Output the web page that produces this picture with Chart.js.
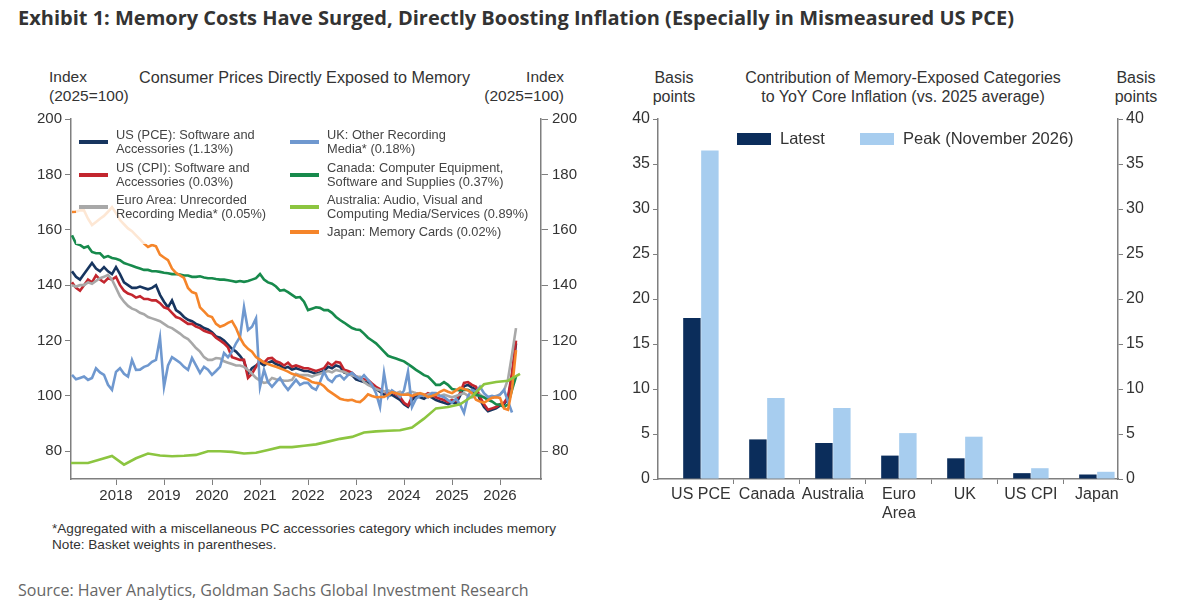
<!DOCTYPE html>
<html>
<head>
<meta charset="utf-8">
<script src="https://cdn.jsdelivr.net/npm/chart.js@4.4.1/dist/chart.umd.min.js"></script>
<style>
  body { margin: 0; background: #fff; width: 1200px; height: 608px; overflow: hidden; position: relative;
         font-family: "Liberation Sans", Arial, sans-serif; color: #333; }
  .abs { position: absolute; white-space: nowrap; }
  #title { left: 18px; top: 4px; font-family: "Open Sans", sans-serif; font-weight: 700; font-size: 20px; color: #333; }
  .hdr { font-size: 15.5px; line-height: 18.5px; color: #333; }
  .hdr2 { font-size: 16px; line-height: 19px; color: #333; }
  #source { left: 18px; top: 579px; font-family: "Open Sans", sans-serif; font-size: 16px; color: #666; }
  .note { left: 52px; font-size: 13.6px; color: #333; }
  #leftCanvasBox { left: 0; top: 0; width: 600px; height: 510px; }
  #rightCanvasBox { left: 600px; top: 0; width: 600px; height: 530px; }
  #lineLegend { left: 76px; top: 122px; width: 464px; height: 122px; background: rgba(255,255,255,0.8); }
  .lg { position: absolute; font-size: 12.8px; line-height: 14px; color: #444; }
  .lg .sw { position: absolute; height: 3.5px; width: 29px; }
  #barLegend { top: 129px; font-size: 16.5px; color: #333; }
  .bsw { position: absolute; width: 34px; height: 12px; top: 4px; }
</style>
</head>
<body>
<div id="title" class="abs">Exhibit 1: Memory Costs Have Surged, Directly Boosting Inflation (Especially in Mismeasured US PCE)</div>

<div class="abs hdr" style="left:49px;top:68px;">Index<br>(2025=100)</div>
<div class="abs hdr" style="left:139px;top:68px;font-size:16.2px;">Consumer Prices Directly Exposed to Memory</div>
<div class="abs hdr" style="left:471px;top:68px;width:93px;text-align:right;">Index<br>(2025=100)</div>

<div class="abs hdr2" style="left:639px;top:68px;width:70px;text-align:center;">Basis<br>points</div>
<div class="abs hdr2" style="left:700px;top:68px;width:406px;text-align:center;">Contribution of Memory-Exposed Categories<br>to YoY Core Inflation (vs. 2025 average)</div>
<div class="abs hdr2" style="left:1101px;top:68px;width:70px;text-align:center;">Basis<br>points</div>

<div id="leftCanvasBox" class="abs"><canvas id="lineChart"></canvas></div>
<div id="rightCanvasBox" class="abs"><canvas id="barChart"></canvas></div>
<div id="lineLegend" class="abs"></div>
<div id="barLegend" class="abs"></div>

<div class="abs note" style="top:521px;">*Aggregated with a miscellaneous PC accessories category which includes memory</div>
<div class="abs note" style="top:537px;">Note: Basket weights in parentheses.</div>
<div id="source" class="abs">Source: Haver Analytics, Goldman Sachs Global Investment Research</div>

<script>
// --- Left panel: monthly indices (2025=100), Feb 2017 .. May 2026 ---
const yearTicks = [2018, 2019, 2020, 2021, 2022, 2023, 2024, 2025, 2026];
const indexTicks = [80, 100, 120, 140, 160, 180, 200];

const usPce = [
  145, 143, 142, 144, 146, 148, 146, 145, 146.5, 145, 144,
  146.5, 144, 141, 140, 139, 139, 139.5, 139, 138.5, 139, 140, 136.5,
  134, 132, 134.5, 131, 130, 128.5, 127.5, 127, 126, 125.5, 124.5, 124,
  123, 121.5, 121, 120, 118.5, 117, 116, 114.5, 112.5, 108, 110, 111,
  112, 111, 112, 112.5, 111.5, 111, 110, 110.5, 109.5, 110, 109.5, 109,
  109, 108.5, 108, 108.5, 109, 110.5, 110, 111, 110.5, 108.5, 108, 107.5,
  106, 105.5, 105, 104.8, 103.5, 102.5, 101.5, 100.5, 100, 100.4, 99.5, 98.6,
  97, 96, 98.5, 100, 99.5, 99, 100, 99.4, 98.5, 98, 97.5, 97,
  97.6, 97.2, 100, 103.5, 104, 103, 102.3, 98.6, 96, 94.5, 95, 95.5,
  96.5, 97, 99, 107, 119
];
const usCpi = [
  141, 139, 138, 140, 142, 141, 143.5, 142, 141, 142.5, 142,
  143, 140, 138, 137, 136.5, 135.5, 136, 135, 135, 134.5, 134.5, 133.5,
  132, 131.5, 130, 128.5, 128, 127, 126, 126, 125, 124.5, 123.5, 123,
  122.5, 121, 120, 119, 117.5, 114, 113.5, 113, 113, 106.5, 108, 110.5,
  113, 112, 113.5, 113.7, 112.5, 112, 111, 112, 110.5, 111, 110.5, 110,
  110, 109.5, 109, 109.5, 110, 112, 111, 112.3, 112, 109.5, 109, 108.3,
  107, 106.5, 106, 105.8, 104.5, 103.3, 102.5, 101.5, 101, 101.4, 100.5, 99.6,
  97.5, 96.5, 99.6, 101, 100.5, 100, 101, 100.4, 99.5, 99, 98.5, 97.8,
  98.6, 98.2, 101, 104.7, 105, 104, 103.3, 99.6, 97, 95, 95.5, 96,
  97, 97.5, 99.6, 108.3, 120
];
const euroArea = [
  140, 139.5, 140, 140, 141, 140.5, 141.5, 142.5, 143, 143.7, 142,
  139, 136, 134, 132.5, 131.5, 131, 130, 129.5, 128.5, 128, 127.5, 127,
  126, 125, 124.5, 123.5, 122.5, 121.3, 120.5, 119, 117.3, 116, 114, 113,
  113, 113.7, 113.5, 112.5, 112, 111.5, 111, 111, 110.5, 109.4, 108, 106.5,
  105.5, 104.7, 105, 106.5, 106, 105.8, 105.5, 105.5, 105.8, 108, 107.5, 107.5,
  107.5, 107, 107.6, 108, 108.5, 109, 108.5, 109.4, 109, 108.7, 108, 107.5,
  107, 106.9, 105, 104, 103.3, 102.5, 102, 101.5, 102, 101.5, 101, 101.5,
  100.5, 101, 101.5, 101, 100.5, 100, 100.5, 101, 100.5, 100, 100.5, 100,
  99.5, 100, 100.5, 101, 100, 99.5, 100, 100.5, 99.5, 99, 99.5, 100,
  100.5, 102, 106, 115, 124.5
];
const ukMedia = [
  107.6, 106, 106.5, 107, 105.8, 106.5, 110, 108.5, 107.6, 104, 102.2,
  108.7, 110, 108, 107, 113, 109.4, 109.5, 110.5, 111, 112.3, 113, 121,
  103.3, 111, 114, 113, 112, 110.5, 109.4, 113.7, 111, 108.3, 110.5, 109.5,
  107.6, 109, 110.5, 115.5, 114, 116, 119, 121.3, 132, 123.8, 125, 128,
  103.3, 109.4, 105, 103.3, 105, 106.5, 104, 102.2, 104, 105.8, 104, 104.7,
  104.7, 103, 102.2, 105, 108.7, 106, 105, 107, 107.5, 106, 107.5, 108.3,
  107, 106, 107.5, 105.8, 104, 101, 96, 108.3, 99.6, 102, 101, 99.6,
  102, 108.7, 96, 99, 100, 100.4, 99.5, 101, 101, 100, 99.6, 98.5,
  97.5, 99, 97, 93.9, 100, 102.2, 101.5, 103.3, 101, 99.6, 100, 99.6,
  100.5, 102.2, 98, 94, null
];
const canada = [
  158, 155, 154.5, 153.5, 154, 152, 151.5, 151.5, 150, 150.5, 149.8,
  149.5, 149, 148, 147.5, 147, 146.5, 146, 145.5, 145.5, 145, 145, 144.8,
  144.5, 144.3, 144, 144, 143.8, 143.5, 143.5, 143, 143, 143.2, 142.8, 142.5,
  142.5, 142.2, 142, 142, 141.8, 141.5, 141.2, 141.5, 141.2, 141.5, 142, 142.5,
  144, 142, 141, 140.5, 139.5, 138, 138.3, 137.5, 136.5, 135.5, 135.7, 134,
  131, 131.5, 132, 131.8, 131, 131, 130, 128.5, 127.4, 126.5, 125.5, 124.5,
  124, 123.8, 122.5, 121, 120, 119, 117.5, 116, 114.5, 114, 113.5, 113,
  112.5, 111.5, 110.5, 109.4, 108.5, 107.5, 107, 105.5, 104, 104, 105, 104,
  102.5, 102.2, 102, 102.2, 102.2, 101.5, 100.5, 100, 99.5, 98.6, 98, 97,
  96.8, 96, 97, 102.2, 107
];
const japan = [
  166.4, 166.5, 167, 167, 164, 161.7, 162.8, 164, 165, 166.5, 168.2,
  166, 163.5, 162, 160.5, 159.5, 158, 156.5, 155, 153.8, 154.5, 154, 151,
  150, 149, 146, 144.4, 143.5, 142.6, 139, 137.5, 137, 132, 130.5, 129,
  128.5, 126, 125, 125.5, 126.4, 127, 124.5, 121, 118.5, 117, 116, 114,
  113, 112, 111.5, 111, 110.5, 110, 109.4, 108.8, 108, 107.6, 107, 106.5,
  106, 105, 104.7, 104.5, 103.5, 102, 101, 100, 99, 98.6, 98.4, 98.6,
  98, 97.8, 99, 100.6, 100, 99.5, 99.6, 99.6, 100.5, 101.4, 101, 100.5,
  100.4, 100.5, 100, 100.5, 101, 100.5, 99.6, 100, 100.5, 101.5, 102.2, 101.5,
  101, 102, 103, 102.5, 102, 101, 98.6, 98, 97.5, 98.5, 99.3, 99.5,
  99.3, 95.5, 95, 102.5, 116.5
];
// Australia is quarterly: Dec 2016 .. Jun 2026
const australia = [
  75.8, 75.8, 75.8, 77, 78.3, 75.2, 77.5, 79.2, 78.5, 78.2, 78.4, 78.7,
  80, 80, 79.8, 79.2, 79.5, 80.5, 81.5, 81.5, 82, 82.5, 83.5, 84.5,
  85.2, 86.8, 87.2, 87.4, 87.6, 88.6, 91.8, 95.5, 96, 97, 99.8, 104.2,
  105, 105.5, 108
];

const lineNames = [
  ['US (PCE): Software and', 'Accessories (1.13%)'],
  ['US (CPI): Software and', 'Accessories (0.03%)'],
  ['Euro Area: Unrecorded', 'Recording Media* (0.05%)'],
  ['UK: Other Recording', 'Media* (0.18%)'],
  ['Canada: Computer Equipment,', 'Software and Supplies (0.37%)'],
  ['Australia: Audio, Visual and', 'Computing Media/Services (0.89%)'],
  ['Japan: Memory Cards (0.02%)']
];
const lineColors = ['#17355f', '#c3262e', '#a8a8a8', '#6f98cf', '#178a4c', '#8cc540', '#f5852a'];

// --- Right panel: basis points ---
const barCategories = ['US PCE', 'Canada', 'Australia', ['Euro', 'Area'], 'UK', 'US CPI', 'Japan'];
const latestBp = [17.9, 4.4, 4.0, 2.6, 2.3, 0.65, 0.5];
const peakBp = [36.5, 9.0, 7.9, 5.1, 4.7, 1.2, 0.8];
const barNames = ['Latest', 'Peak (November 2026)'];
const barColors = ['#0b2d5b', '#a7cdef'];

function monthly(values) {
  return values.map((v, i) => ({ x: 2017 + (1 + i) / 12, y: v }));
}
function quarterly(values) {
  return values.map((v, i) => ({ x: 2016 + 11 / 12 + i / 4, y: v }));
}
function byCategory(values) {
  return values.map((v, i) => ({ x: i, y: v }));
}

const axisGrey = '#7f7f7f';
const tickFont = { family: '"Liberation Sans", Arial, sans-serif', size: 15 };

const lineSeries = [usPce, usCpi, euroArea, ukMedia, canada, australia, japan];
const drawOrder = [7, 6, 5, 3, 4, 1, 2]; // lower = drawn on top

new Chart(document.getElementById('lineChart'), {
  type: 'line',
  data: {
    datasets: lineSeries.map((vals, k) => ({
      label: lineNames[k].join(' '),
      data: vals === australia ? quarterly(vals) : monthly(vals),
      borderColor: lineColors[k],
      borderWidth: 2.6,
      pointRadius: 0,
      tension: 0,
      order: drawOrder[k]
    }))
  },
  options: {
    responsive: true,
    maintainAspectRatio: false,
    animation: false,
    events: [],
    layout: { padding: { top: 119, left: 0, right: 0, bottom: 0 } },
    plugins: { legend: { display: false }, tooltip: { enabled: false } },
    scales: {
      x: {
        type: 'linear',
        min: 2017.0625,
        max: 2026.854,
        afterBuildTicks: s => { s.ticks = yearTicks.map(v => ({ value: v })); },
        afterFit: s => { s.height = 31; },
        ticks: { color: '#333', font: tickFont, padding: 2, callback: v => String(v), maxRotation: 0 },
        grid: { drawOnChartArea: false, tickLength: 6, color: axisGrey },
        border: { color: axisGrey, width: 1.5 }
      },
      y: {
        position: 'left',
        min: 70,
        max: 200,
        afterBuildTicks: s => { s.ticks = indexTicks.map(v => ({ value: v })); },
        afterFit: s => { s.width = 71; },
        ticks: { color: '#333', font: tickFont, padding: 3 },
        grid: { drawOnChartArea: false, tickLength: 6, color: axisGrey },
        border: { color: axisGrey, width: 1.5 }
      },
      y2: {
        position: 'right',
        min: 70,
        max: 200,
        afterBuildTicks: s => { s.ticks = indexTicks.map(v => ({ value: v })); },
        afterFit: s => { s.width = 59; },
        ticks: { color: '#333', font: tickFont, padding: 4 },
        grid: { drawOnChartArea: false, tickLength: 7, color: axisGrey },
        border: { color: axisGrey, width: 1.5 }
      }
    }
  }
});

const barFont = { family: '"Liberation Sans", Arial, sans-serif', size: 16 };
new Chart(document.getElementById('barChart'), {
  type: 'bar',
  data: {
    datasets: [
      { label: barNames[0], data: byCategory(latestBp), backgroundColor: barColors[0] },
      { label: barNames[1], data: byCategory(peakBp), backgroundColor: barColors[1] }
    ]
  },
  options: {
    responsive: true,
    maintainAspectRatio: false,
    animation: false,
    events: [],
    layout: { padding: { top: 119, left: 0, right: 0, bottom: 0 } },
    plugins: { legend: { display: false }, tooltip: { enabled: false } },
    datasets: { bar: { categoryPercentage: 0.545, barPercentage: 0.97 } },
    scales: {
      x: {
        type: 'linear',
        offset: false,
        min: -0.65,
        max: 6.32,
        afterBuildTicks: s => { s.ticks = barCategories.map((c, i) => ({ value: i })); },
        afterFit: s => { s.height = 51; },
        ticks: { color: '#333', font: barFont, padding: 1, maxRotation: 0, autoSkip: false,
                 callback: (v, i) => barCategories[i] },
        grid: { drawOnChartArea: false, tickLength: 5, offset: true,
                color: ctx => (ctx.index === 0 || ctx.index >= barCategories.length) ? 'rgba(0,0,0,0)' : axisGrey },
        border: { color: axisGrey, width: 1.5 }
      },
      y: {
        position: 'left',
        min: 0, max: 40,
        ticks: { stepSize: 5, color: '#333', font: barFont, padding: 3 },
        afterFit: s => { s.width = 58; },
        grid: { drawOnChartArea: false, tickLength: 5, color: axisGrey },
        border: { color: axisGrey, width: 1.5 }
      },
      y2: {
        position: 'right',
        min: 0, max: 40,
        ticks: { stepSize: 5, color: '#333', font: barFont, padding: 3 },
        afterFit: s => { s.width = 82; },
        grid: { drawOnChartArea: false, tickLength: 5, color: axisGrey },
        border: { color: axisGrey, width: 1.5 }
      }
    }
  }
});

// --- Legends (HTML overlays built from the dataset names/colours) ---
const lineLegend = document.getElementById('lineLegend');
const legendSlots = [
  [3, 20], [3, 53], [3, 85],
  [214, 20], [214, 53], [214, 85], [214, 110]
];
lineNames.forEach((lines, k) => {
  const item = document.createElement('div');
  item.className = 'lg';
  const h = lines.length * 14;
  item.style.left = legendSlots[k][0] + 'px';
  item.style.top = (legendSlots[k][1] - h / 2) + 'px';
  item.style.height = h + 'px';
  item.innerHTML = '<div class="sw" style="left:0;top:' + (h / 2 - 1.75) + 'px;background:' + lineColors[k] + '"></div>' +
    '<div style="position:absolute;left:37px;top:0;white-space:nowrap;">' + lines.join('<br>') + '</div>';
  lineLegend.appendChild(item);
});

const barLegend = document.getElementById('barLegend');
const barLegendX = [737, 860];
barNames.forEach((name, k) => {
  const item = document.createElement('div');
  item.className = 'abs';
  item.style.left = barLegendX[k] + 'px';
  item.style.top = '0px';
  item.innerHTML = '<div class="bsw" style="left:0;background:' + barColors[k] + '"></div>' +
    '<span style="position:absolute;left:43px;top:0;">' + name + '</span>';
  barLegend.appendChild(item);
});
</script>
</body>
</html>
